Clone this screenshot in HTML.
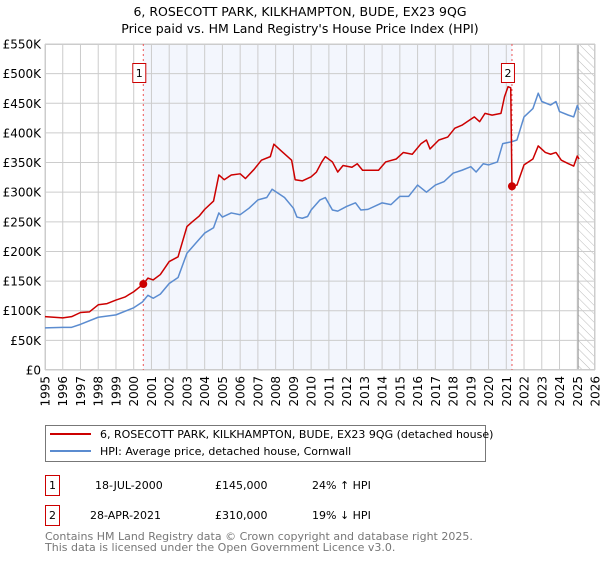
<!DOCTYPE html>
<html><head><meta charset="utf-8"><style>
body{margin:0;background:#fff;font-family:"DejaVu Sans","Liberation Sans",sans-serif;}
svg text{font-family:"DejaVu Sans","Liberation Sans",sans-serif;}
</style></head><body>
<svg id="chart" width="600" height="560" viewBox="0 0 600 560" xmlns="http://www.w3.org/2000/svg">
<defs><pattern id="hatch" width="6" height="6" patternUnits="userSpaceOnUse" patternTransform="rotate(-45)"><line x1="0" y1="0" x2="0" y2="6" stroke="#bbb" stroke-width="1"/></pattern></defs>
<text x="300" y="16" text-anchor="middle" font-size="12.5">6, ROSECOTT PARK, KILKHAMPTON, BUDE, EX23 9QG</text>
<text x="300" y="33" text-anchor="middle" font-size="12.5">Price paid vs. HM Land Registry's House Price Index (HPI)</text>
<g id="plot"></g>
<g>
<rect x="45.5" y="425.5" width="440" height="36" fill="#fff" stroke="#777"/>
<line x1="50" y1="434" x2="91" y2="434" stroke="#cc0000" stroke-width="2"/>
<text x="100" y="438" font-size="11">6, ROSECOTT PARK, KILKHAMPTON, BUDE, EX23 9QG (detached house)</text>
<line x1="50" y1="451" x2="91" y2="451" stroke="#5b8cd0" stroke-width="2"/>
<text x="100" y="455" font-size="11">HPI: Average price, detached house, Cornwall</text>
</g>
<g font-size="11">
<rect x="45.5" y="475.5" width="14" height="20" fill="#fff" stroke="#cc0000"/>
<text x="52.5" y="489" text-anchor="middle">1</text>
<text x="95" y="489">18-JUL-2000</text><text x="215" y="489">£145,000</text><text x="312" y="489">24% ↑ HPI</text>
</g>
<g font-size="11">
<rect x="45.5" y="505.5" width="14" height="20" fill="#fff" stroke="#cc0000"/>
<text x="52.5" y="519" text-anchor="middle">2</text>
<text x="90" y="519">28-APR-2021</text><text x="215" y="519">£310,000</text><text x="312" y="519">19% ↓ HPI</text>
</g>
<text x="45" y="540" font-size="11" fill="#777">Contains HM Land Registry data © Crown copyright and database right 2025.</text>
<text x="45" y="551" font-size="11" fill="#777">This data is licensed under the Open Government Licence v3.0.</text>
</svg>
<script>
const yTicks=[0,50,100,150,200,250,300,350,400,450,500,550];
const yTickLabels=["£0","£50K","£100K","£150K","£200K","£250K","£300K","£350K","£400K","£450K","£500K","£550K"];
const xTicks=[1995,1996,1997,1998,1999,2000,2001,2002,2003,2004,2005,2006,2007,2008,2009,2010,2011,2012,2013,2014,2015,2016,2017,2018,2019,2020,2021,2022,2023,2024,2025,2026];
const hpiYears=[1995,1996,1996.5,1997,1998,1999,2000,2000.5,2000.8,2001.1,2001.5,2002,2002.5,2003,2003.5,2004,2004.5,2004.8,2005,2005.5,2006,2006.5,2007,2007.5,2007.8,2008.5,2009,2009.2,2009.5,2009.8,2010,2010.5,2010.8,2011.2,2011.5,2012,2012.5,2012.8,2013.2,2014,2014.5,2015,2015.5,2016,2016.5,2017,2017.5,2018,2018.5,2019,2019.3,2019.7,2020,2020.5,2020.8,2021.3,2021.6,2022,2022.5,2022.8,2023,2023.5,2023.8,2024,2024.5,2024.8,2025,2025.1];
const hpiValues=[71,72,72,77,89,93,105,115,126,121,128,146,156,197,214,231,240,265,258,265,262,273,287,291,305,291,273,258,256,259,270,287,291,270,268,276,282,270,271,282,279,293,293,312,300,312,318,332,337,343,334,348,346,351,382,385,388,427,441,467,453,447,453,436,430,427,446,439];
const priceYears=[1995,1996,1996.5,1997,1997.5,1998,1998.5,1999,1999.5,2000,2000.54,2000.8,2001.1,2001.5,2002,2002.5,2003,2003.3,2003.7,2004,2004.5,2004.8,2005.1,2005.5,2006,2006.3,2006.8,2007.2,2007.7,2007.9,2008.3,2008.9,2009.1,2009.5,2010,2010.3,2010.6,2010.8,2011.2,2011.5,2011.8,2012.3,2012.6,2012.9,2013.2,2013.8,2014.2,2014.8,2015.2,2015.7,2016.2,2016.5,2016.7,2017.2,2017.7,2018.1,2018.5,2018.8,2019.2,2019.5,2019.8,2020.2,2020.7,2020.9,2021.1,2021.25,2021.32,2021.6,2022,2022.5,2022.8,2023.2,2023.5,2023.8,2024.1,2024.5,2024.8,2025,2025.1];
const priceValues=[90,88,90,97,98,110,112,118,123,132,145,155,152,161,183,191,242,250,260,271,285,329,321,329,331,323,339,354,360,381,370,354,321,319,326,334,351,360,351,334,345,342,348,337,337,337,351,356,367,364,382,388,373,388,393,408,413,419,427,419,433,430,433,461,478,476,310,312,346,356,378,367,364,367,354,348,344,361,356];
const sales=[{n:"1",year:2000.54,value:145},{n:"2",year:2021.32,value:310}];
const NS="http://www.w3.org/2000/svg";
const L=45,R=595,T=44,B=370,X0=1995,X1=2026,YMAX=550;
const xs=y=>L+(y-X0)/(X1-X0)*(R-L);
const ys=v=>B-v/YMAX*(B-T);
const g=document.getElementById('plot');
function mk(tag,attrs,parent){const e=document.createElementNS(NS,tag);for(const k in attrs)e.setAttribute(k,attrs[k]);(parent||g).appendChild(e);return e;}
let e;
e=mk('rect',{x:xs(sales[0].year),y:T,width:xs(sales[1].year)-xs(sales[0].year),height:B-T,fill:'#f3f6fd'});


e=mk('rect',{x:xs(2025.05),y:T,width:R-xs(2025.05),height:B-T,fill:'url(#hatch)'});


yTicks.forEach((t,i)=>{
 e=mk('line',{x1:L,x2:R,y1:ys(t),y2:ys(t),stroke:'#cccccc'});
 
 
 e=mk('text',{x:L-4,y:ys(t)+4.5,'text-anchor':'end','font-size':'12'});e.textContent=yTickLabels[i];
 
 
});
xTicks.forEach(t=>{
 e=mk('line',{x1:xs(t),x2:xs(t),y1:T,y2:B,stroke:'#cccccc'});
 
 
 e=mk('text',{x:0,y:0,'text-anchor':'end','font-size':'12',transform:`translate(${xs(t)+4.5},${B+6}) rotate(-90)`});e.textContent=t;
 
 
});
e=mk('line',{x1:xs(2025.05),x2:xs(2025.05),y1:T,y2:B,stroke:'#999'});


e=mk('rect',{x:L+0.5,y:T+0.5,width:R-L-1,height:B-T-1,fill:'none',stroke:'#cccccc'});


sales.forEach(s=>{
 e=mk('line',{x1:xs(s.year),x2:xs(s.year),y1:T,y2:B,stroke:'#ee5555','stroke-dasharray':'2,3'});
 
 
});
e=mk('polyline',{points:hpiYears.map((y,i)=>xs(y)+','+ys(hpiValues[i])).join(' '),fill:'none',stroke:'#5b8cd0','stroke-width':1.5,'stroke-linejoin':'round'});


e=mk('polyline',{points:priceYears.map((y,i)=>xs(y)+','+ys(priceValues[i])).join(' '),fill:'none',stroke:'#cc0000','stroke-width':1.5,'stroke-linejoin':'round'});


sales.forEach(s=>{
 e=mk('circle',{cx:xs(s.year),cy:ys(s.value),r:4,fill:'#cc0000'});
 
 
 const bx=xs(s.year)-(s.n==="1"?4:0)-7;
 e=mk('rect',{x:bx+0.5-(s.n==="2"?4:0),y:63.5,width:13,height:19,fill:'#fff',stroke:'#cc0000'});
 
 
 e=mk('text',{x:bx+7-(s.n==="2"?4:0),y:77,'text-anchor':'middle','font-size':'11'});e.textContent=s.n;
 
 
});
</script>
</body></html>
